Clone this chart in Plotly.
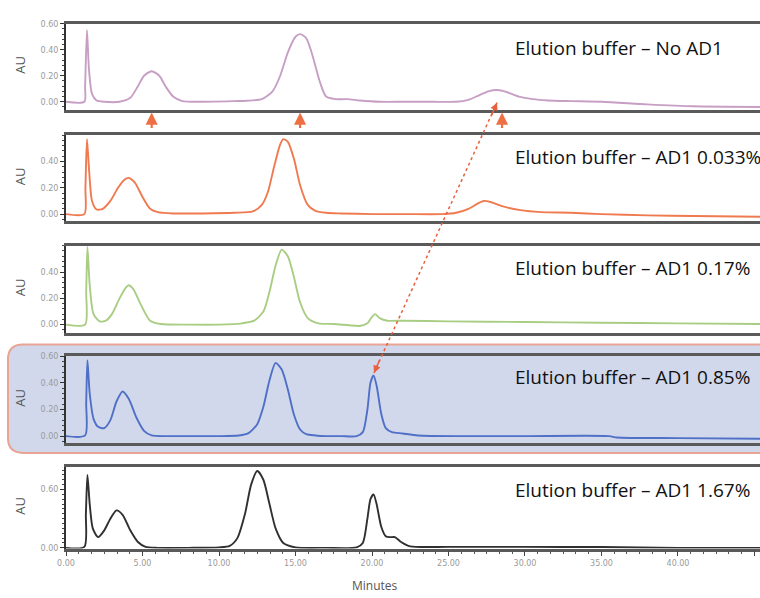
import plotly.graph_objects as go

# ---------------- data ----------------
sample_labels = [
    "Elution buffer – No AD1",
    "Elution buffer – AD1 0.033%",
    "Elution buffer – AD1 0.17%",
    "Elution buffer – AD1 0.85%",
    "Elution buffer – AD1 1.67%",
]

time_no_ad1 = [0, 1.2, 1.25, 1.37, 1.5, 1.7, 2.0, 2.5, 3.5, 4.2, 4.7, 5.1, 5.6, 6.1, 6.5, 7.0, 7.6,
               9, 11, 11.8, 12.8, 13.5, 14.0, 14.5, 15.0, 15.3, 15.7, 16.1, 16.6, 17.0, 17.6, 18.4,
               19.2, 20.5, 22, 24, 25.5, 26.3, 27.0, 27.6, 28.2, 28.8, 29.6, 30.5, 31.5, 33, 35, 38,
               41, 45.4]
au_no_ad1 = [0, 0.0, 0.12, 0.55, 0.25, 0.06, 0.01, 0.0, 0.0, 0.03, 0.12, 0.2, 0.235, 0.2, 0.12, 0.04,
             0.005, 0, 0.005, 0.008, 0.02, 0.08, 0.2, 0.38, 0.5, 0.52, 0.49, 0.36, 0.15, 0.04, 0.02,
             0.02, 0.01, 0.0, 0.0, 0.0, 0.0, 0.015, 0.05, 0.08, 0.09, 0.075, 0.04, 0.02, 0.01, 0.005,
             0.0, -0.02, -0.035, -0.04]

time_ad1_0033 = [0, 1.2, 1.27, 1.37, 1.5, 1.7, 2.0, 2.4, 2.9, 3.4, 3.8, 4.1, 4.5, 5.0, 5.5, 6.0, 7, 9,
                 11, 12.2, 12.8, 13.2, 13.6, 14.0, 14.2, 14.5, 14.9, 15.3, 15.8, 16.3, 17.0, 18, 20,
                 22, 24.6, 25.5, 26.3, 26.9, 27.3, 27.8, 28.5, 29.7, 31, 33, 35, 38, 41, 45.4]
au_ad1_0033 = [0.0, 0.0, 0.2, 0.57, 0.35, 0.1, 0.035, 0.04, 0.1, 0.2, 0.26, 0.275, 0.24, 0.13, 0.04,
               0.015, 0.005, 0.005, 0.01, 0.02, 0.07, 0.17, 0.36, 0.53, 0.57, 0.55, 0.42, 0.22, 0.07,
               0.025, 0.01, 0.005, 0.0, 0.0, 0.0, 0.01, 0.04, 0.08, 0.10, 0.09, 0.06, 0.03, 0.015,
               0.01, 0.0, -0.01, -0.015, -0.02]

time_ad1_017 = [0, 1.25, 1.32, 1.4, 1.55, 1.8, 2.2, 2.6, 3.0, 3.5, 3.9, 4.1, 4.4, 4.9, 5.5, 6.2, 8, 10,
                11.5, 12.3, 12.9, 13.3, 13.7, 14.1, 14.5, 14.9, 15.3, 15.8, 16.5, 17.5, 18.5, 19.2,
                19.7, 20.0, 20.2, 20.5, 21.0, 22, 25, 30, 35, 40, 45.4]
au_ad1_017 = [0.0, 0.0, 0.25, 0.59, 0.3, 0.08, 0.025, 0.03, 0.08, 0.2, 0.28, 0.30, 0.27, 0.15, 0.03,
              0.005, 0.0, 0.0, 0.01, 0.03, 0.1, 0.25, 0.45, 0.57, 0.52, 0.36, 0.17, 0.05, 0.01, 0.005,
              -0.005, -0.01, 0.01, 0.06, 0.08, 0.05, 0.03, 0.03, 0.025, 0.02, 0.015, 0.01, 0.005]

time_ad1_085 = [0, 1.25, 1.32, 1.4, 1.55, 1.8, 2.1, 2.5, 2.9, 3.3, 3.7, 4.1, 4.6, 5.1, 5.6, 6.5, 8, 10,
                11.3, 11.9, 12.5, 12.9, 13.3, 13.7, 14.1, 14.5, 14.9, 15.3, 15.7, 16.3, 17, 18, 19.0,
                19.4, 19.7, 19.9, 20.1, 20.3, 20.6, 20.9, 21.3, 22, 23, 26, 30, 35.5, 36, 40, 45.4]
au_ad1_085 = [0.0, 0.005, 0.25, 0.57, 0.32, 0.13, 0.07, 0.06, 0.12, 0.26, 0.335, 0.28, 0.14, 0.04,
              0.005, 0.0, 0.0, 0.0, 0.005, 0.02, 0.09, 0.22, 0.42, 0.55, 0.5, 0.35, 0.16, 0.05, 0.015,
              0.005, 0.0, 0.0, 0.0, 0.03, 0.2, 0.4, 0.455, 0.38, 0.17, 0.06, 0.03, 0.02, 0.005, 0.0,
              0.0, 0.0, -0.01, -0.015, -0.02]

time_ad1_167 = [0, 1.2, 1.3, 1.4, 1.55, 1.75, 2.1, 2.5, 2.9, 3.3, 3.7, 4.2, 4.7, 5.2, 6, 8, 10, 10.7,
                11.2, 11.7, 12.1, 12.5, 12.9, 13.3, 13.7, 14.2, 15, 17, 19.0, 19.4, 19.7, 19.9, 20.1,
                20.3, 20.6, 20.9, 21.2, 21.5, 21.9, 22.5, 25, 30, 35, 40, 45.4]
au_ad1_167 = [0.0, 0.01, 0.35, 0.75, 0.45, 0.2, 0.11, 0.18, 0.3, 0.385, 0.34, 0.18, 0.06, 0.01, 0.0,
              0.0, 0.005, 0.02, 0.1, 0.35, 0.65, 0.79, 0.7, 0.45, 0.2, 0.05, 0.005, 0.0, 0.005, 0.05,
              0.3, 0.5, 0.55, 0.45, 0.22, 0.12, 0.11, 0.11, 0.06, 0.015, 0.01, 0.01, 0.008, 0.0, 0.0]

x_tick_values = [0, 5, 10, 15, 20, 25, 30, 35, 40, 45]
y_tick_values = [[0, 0.2, 0.4, 0.6], [0, 0.2, 0.4], [0, 0.2, 0.4], [0, 0.2, 0.4, 0.6], [0, 0.6]]

series_time = [time_no_ad1, time_ad1_0033, time_ad1_017, time_ad1_085, time_ad1_167]
series_au = [au_no_ad1, au_ad1_0033, au_ad1_017, au_ad1_085, au_ad1_167]

# ---------------- styling / layout ----------------
W, H = 760, 598
L = 66
def px(x):
    return (x - L) / (W - L)
def py(y):
    return 1 - y / H

colors = ["#c79fc4", "#f07a50", "#aacd84", "#4f70c6", "#303030"]
panel_px = [(20, 107), (133, 220), (245, 333), (357, 445), (469, 552)]
y_ranges = [[-0.06, 0.60], [-0.053, 0.60], [-0.06, 0.60], [-0.052, 0.60], [-0.008, 0.834]]
minor_dt = [0.04, 0.04, 0.04, 0.04, 0.05]
label_y = [45, 155, 268, 378, 493]
x_range = [0, 45.36]

fig = go.Figure()
for i in range(5):
    sfx = "" if i == 0 else str(i + 1)
    fig.add_trace(go.Scatter(
        x=series_time[i], y=series_au[i], mode="lines",
        line=dict(color=colors[i], width=1.9, shape="spline", smoothing=0.7),
        xaxis="x" + sfx, yaxis="y" + sfx, showlegend=False, hoverinfo="skip"))
    top, bot = panel_px[i]
    is_bottom = (i == 4)
    fig.layout["xaxis" + sfx] = dict(
        domain=[0, 1], range=x_range, anchor="y" + sfx,
        showline=True, mirror=True, linecolor="#5a5a5a", linewidth=2.5,
        showgrid=False, zeroline=False,
        showticklabels=is_bottom,
        tickvals=x_tick_values if is_bottom else [],
        tickformat=".2f",
        ticks="outside" if is_bottom else "", ticklen=5, tickcolor="#444", tickwidth=1,
        minor=dict(dtick=5 / 6, ticks="outside" if is_bottom else "", ticklen=3,
                   tickcolor="#555", tickwidth=1) if is_bottom else dict(ticks=""),
        tickfont=dict(family="DejaVu Sans", size=8, color="#9a9a9a"),
        matches=None if i == 0 else "x",
    )
    fig.layout["yaxis" + sfx] = dict(
        domain=[py(bot), py(top)], range=y_ranges[i], anchor="x" + sfx,
        showline=True, linecolor="#333333", linewidth=2, mirror=False,
        showgrid=False, zeroline=False,
        tickvals=y_tick_values[i], tickformat=".2f",
        ticks="outside", ticklen=4, tickcolor="#333", tickwidth=1,
        minor=dict(dtick=minor_dt[i], ticks="outside", ticklen=2, tickcolor="#444", tickwidth=1),
        tickfont=dict(family="DejaVu Sans", size=8, color="#9a9a9a"),
    )
    # AU label
    fig.add_annotation(text="AU", xref="paper", yref="paper", x=px(20), y=py((top + bot) / 2 - 2),
                       textangle=-90, showarrow=False, xanchor="center", yanchor="middle",
                       font=dict(family="Open Sans", size=13, color="#555"))
    # sample label
    fig.add_annotation(text=sample_labels[i], xref="paper", yref="paper", x=px(513), y=py(label_y[i]),
                       showarrow=False, xanchor="left", yanchor="middle",
                       font=dict(family="Open Sans", size=19, color="#111"))

# highlighted panel (rounded rectangle)
x0, x1, y0, y1 = px(8), px(790), py(345), py(455)
rx, ry = 15 / (W - L), 15 / H
path = (f"M {x0+rx},{y0} L {x1},{y0} L {x1},{y1} L {x0+rx},{y1} "
        f"Q {x0},{y1} {x0},{y1+ry} L {x0},{y0-ry} Q {x0},{y0} {x0+rx},{y0} Z")
fig.add_shape(type="path", path=path, xref="paper", yref="paper", layer="below",
              fillcolor="#d1d8ec", line=dict(color="#e9a494", width=2))

# short upward arrows between panels 1 and 2
arrow_color = "#ef6f45"
for t in [5.6, 15.3, 28.5]:
    fig.add_annotation(x=t, y=py(110), xref="x", yref="paper", text="", showarrow=True,
                       ax=0, ay=17, arrowhead=2, arrowsize=1.1, arrowwidth=2.2,
                       arrowcolor=arrow_color)

# dotted double-headed connector
xa, ya = 497, 100
xb, yb = 374, 374
fig.add_shape(type="line", xref="paper", yref="paper", x0=px(xa), y0=py(ya), x1=px(xb), y1=py(yb),
              line=dict(color="#e8603c", width=1.5, dash="dot"))
fig.add_annotation(x=px(xa), y=py(ya), xref="paper", yref="paper", text="", showarrow=True,
                   ax=-6, ay=14, arrowhead=2, arrowsize=1, arrowwidth=1.5, arrowcolor="#e8603c")
fig.add_annotation(x=px(xb), y=py(yb), xref="paper", yref="paper", text="", showarrow=True,
                   ax=6, ay=-14, arrowhead=2, arrowsize=1, arrowwidth=1.5, arrowcolor="#e8603c")

# x-axis title
fig.add_annotation(text="Minutes", xref="paper", yref="paper", x=px(375), y=py(589),
                   showarrow=False, xanchor="center", yanchor="middle",
                   font=dict(family="Open Sans", size=12, color="#555"))

fig.update_layout(
    width=W, height=H,
    margin=dict(l=L, r=0, t=0, b=0),
    paper_bgcolor="white", plot_bgcolor="rgba(0,0,0,0)",
    showlegend=False,
)
fig.write_html("out.html", config={"displayModeBar": False},
               post_script="document.body.style.margin='0px';document.body.style.overflow='hidden';")
